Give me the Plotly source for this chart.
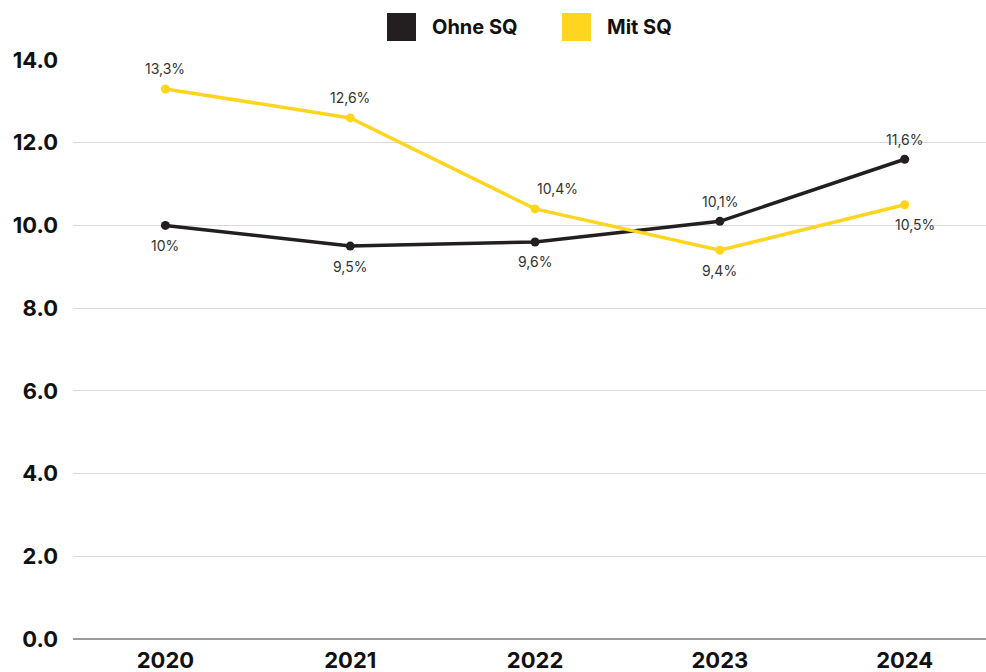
import plotly.graph_objects as go

years = ["2020", "2021", "2022", "2023", "2024"]
ohne_sq = [10.0, 9.5, 9.6, 10.1, 11.6]
mit_sq = [13.3, 12.6, 10.4, 9.4, 10.5]
ohne_labels = ["10%", "9,5%", "9,6%", "10,1%", "11,6%"]
mit_labels = ["13,3%", "12,6%", "10,4%", "9,4%", "10,5%"]
ohne_pos = ["below", "below", "below", "above", "above"]
mit_pos = ["above", "above", "above", "below", "below"]
mit_dx = [0, 0, 22, 0, 10]
ohne_dx = [0, 0, 0, 0, 0]
y_ticks = [0, 2, 4, 6, 8, 10, 12, 14]

BLACK = "#231f20"
YELLOW = "#ffd520"
FONT = "Inter"

fig = go.Figure()
fig.add_trace(go.Scatter(x=list(range(len(years))), y=ohne_sq, mode="lines+markers",
                         line=dict(color=BLACK, width=3.5), marker=dict(size=9, color=BLACK),
                         name="Ohne SQ", showlegend=False))
fig.add_trace(go.Scatter(x=list(range(len(years))), y=mit_sq, mode="lines+markers",
                         line=dict(color=YELLOW, width=3.5), marker=dict(size=9, color=YELLOW),
                         name="Mit SQ", showlegend=False))

for vals, labels, pos, dx in [(ohne_sq, ohne_labels, ohne_pos, ohne_dx), (mit_sq, mit_labels, mit_pos, mit_dx)]:
    for i, (v, t, p, d) in enumerate(zip(vals, labels, pos, dx)):
        fig.add_annotation(x=i, y=v, text=t, showarrow=False, xshift=d,
                           yshift=20 if p == "above" else -20,
                           font=dict(family=FONT, size=14, color="#333333"))

# legend (manual, square swatches); paper coords span the plot area (913 px wide)
PW = 913.0
legend_items = [("Ohne SQ", BLACK, 314 / PW, 357 / PW), ("Mit SQ", YELLOW, 489 / PW, 532 / PW)]
for name, col, x0, tx in legend_items:
    fig.add_shape(type="rect", xref="paper", yref="paper", x0=x0, x1=x0 + 29 / PW,
                  y0=1.0 + 19 / 579, y1=1.0 + 47 / 579, fillcolor=col, line=dict(color=col, width=0))
    fig.add_annotation(xref="paper", yref="paper", x=tx, y=1.0 + 33 / 579, text=f"<b>{name}</b>",
                       showarrow=False, xanchor="left", yanchor="middle",
                       font=dict(family=FONT, size=20, color="#111111"))

fig.update_layout(
    width=986, height=672,
    margin=dict(l=73, r=0, t=60, b=33),
    plot_bgcolor="white", paper_bgcolor="white",
    showlegend=False,
    xaxis=dict(tickmode="array", tickvals=list(range(len(years))), ticktext=[f"<b>{y}</b>" for y in years],
               range=[-0.5, 4.44], showgrid=False, zeroline=False, showline=False,
               tickfont=dict(family=FONT, size=22, color="#111111"), ticklabelstandoff=6),
    yaxis=dict(range=[0, 14], tickvals=y_ticks, ticktext=[f"<b>{v:.1f}</b>" for v in y_ticks],
               showgrid=True, gridcolor="#d9d9d9", gridwidth=1,
               zeroline=True, zerolinecolor="#9a9a9a", zerolinewidth=1.5, showline=False,
               tickfont=dict(family=FONT, size=22, color="#111111"), ticklabelstandoff=14),
)

fig.write_html("out.html", config={"displayModeBar": False},
               post_script="document.body.style.margin='0';document.body.style.overflow='hidden';")
